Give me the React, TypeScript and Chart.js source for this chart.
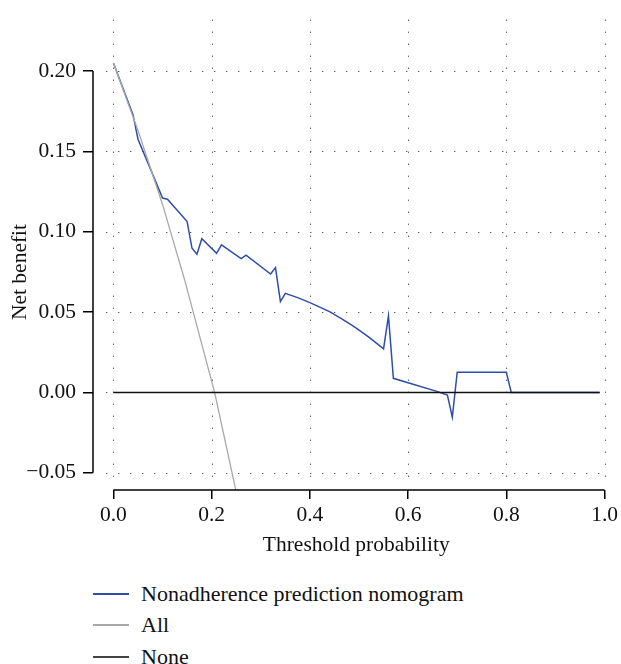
import { useEffect, useRef } from "react";
import { Chart, registerables } from "chart.js";

Chart.register(...registerables);

const FONT = "'Liberation Serif', 'Times New Roman', serif";

const xTickValues = [0, 0.2, 0.4, 0.6, 0.8, 1.0];
const yTickValues = [-0.05, 0, 0.05, 0.1, 0.15, 0.2];

// Nonadherence prediction nomogram
const nomogramX = [
  0, 0.04, 0.05, 0.07, 0.1, 0.11, 0.15, 0.16, 0.17, 0.18, 0.21, 0.22, 0.26,
  0.27, 0.32, 0.33, 0.34, 0.35, 0.375, 0.4, 0.44, 0.465, 0.49, 0.52, 0.55,
  0.56, 0.57, 0.66, 0.68, 0.69, 0.7, 0.8, 0.81, 0.99,
];
const nomogramY = [
  0.205, 0.1727, 0.1576, 0.143, 0.121, 0.1202, 0.1063, 0.0897, 0.086, 0.0957,
  0.0866, 0.0918, 0.0833, 0.0854, 0.0737, 0.0777, 0.0565, 0.0617, 0.059,
  0.0559, 0.0503, 0.0458, 0.0409, 0.0344, 0.0271, 0.0476, 0.0088, 0.0005,
  -0.0016, -0.0154, 0.0126, 0.0126, 0, 0,
];

// treat all
const allX = [0, 0.05, 0.1, 0.145, 0.206, 0.25, 0.27];
const allY = [0.205, 0.163, 0.117, 0.07, 0, -0.062, -0.089];

// treat none
const noneX = [0, 0.99];
const noneY = [0, 0];

const toPoints = (xs: number[], ys: number[]) =>
  xs.map((x, i) => ({ x, y: ys[i] }));

// dotted grid + R-style axis lines that only span the tick range
const rAxes = {
  id: "rAxes",
  beforeDatasetsDraw(chart: any) {
    const { ctx } = chart;
    const xs = chart.scales.x;
    const ys = chart.scales.y;
    ctx.save();
    ctx.strokeStyle = "#555";
    ctx.lineWidth = 1;
    ctx.setLineDash([1.3, 10.7]);
    xTickValues.forEach((v) => {
      const px = Math.round(xs.getPixelForValue(v)) + 0.5;
      ctx.beginPath();
      ctx.moveTo(px, ys.getPixelForValue(0.232));
      ctx.lineTo(px, ys.getPixelForValue(-0.053));
      ctx.stroke();
    });
    yTickValues.forEach((v) => {
      const py = Math.round(ys.getPixelForValue(v)) + 0.5;
      ctx.beginPath();
      ctx.moveTo(xs.getPixelForValue(-0.015), py);
      ctx.lineTo(xs.getPixelForValue(1.008), py);
      ctx.stroke();
    });
    ctx.restore();
  },
  afterDraw(chart: any) {
    const { ctx, chartArea } = chart;
    const xs = chart.scales.x;
    const ys = chart.scales.y;
    ctx.save();
    ctx.strokeStyle = "#000";
    ctx.lineWidth = 1.5;
    ctx.beginPath();
    ctx.moveTo(chartArea.left, ys.getPixelForValue(0.2));
    ctx.lineTo(chartArea.left, ys.getPixelForValue(-0.05));
    ctx.stroke();
    ctx.beginPath();
    ctx.moveTo(xs.getPixelForValue(0), chartArea.bottom);
    ctx.lineTo(xs.getPixelForValue(1), chartArea.bottom);
    ctx.stroke();
    ctx.restore();
  },
};

function DecisionCurve() {
  const ref = useRef<HTMLCanvasElement | null>(null);
  useEffect(() => {
    if (!ref.current) return;
    const ctx = ref.current.getContext("2d");
    if (!ctx) return;

    const chart = new Chart(ctx, {
      type: "line",
      data: {
        datasets: [
          {
            label: "None",
            data: toPoints(noneX, noneY),
            borderColor: "#111",
            borderWidth: 1.5,
            pointRadius: 0,
          },
          {
            label: "All",
            data: toPoints(allX, allY),
            borderColor: "#a8a8a8",
            borderWidth: 1.3,
            pointRadius: 0,
          },
          {
            label: "Nonadherence prediction nomogram",
            data: toPoints(nomogramX, nomogramY),
            borderColor: "#2f4dab",
            borderWidth: 1.5,
            pointRadius: 0,
          },
        ],
      },
      options: {
        animation: false,
        responsive: true,
        maintainAspectRatio: false,
        layout: { padding: { top: 54, left: 0, right: 0, bottom: 0 } },
        plugins: { legend: { display: false }, tooltip: { enabled: false } },
        scales: {
          x: {
            type: "linear",
            min: -0.0416,
            max: 1.0305,
            afterBuildTicks: (scale: any) => {
              scale.ticks = xTickValues.map((value) => ({ value }));
            },
            afterFit: (scale: any) => {
              scale.height = 70;
            },
            border: { display: false },
            grid: {
              drawOnChartArea: false,
              drawTicks: true,
              tickLength: 9,
              color: "#000",
              lineWidth: 1.5,
            },
            ticks: {
              autoSkip: false,
              maxRotation: 0,
              padding: 3,
              color: "#111",
              font: { family: FONT, size: 21.5 },
              callback: (v: any) => Number(v).toFixed(1),
            },
            title: {
              display: true,
              text: "Threshold probability",
              color: "#111",
              font: { family: FONT, size: 21.5, lineHeight: 1.2 },
              padding: { top: 0, bottom: 2 },
            },
          },
          y: {
            type: "linear",
            min: -0.0607,
            max: 0.2106,
            afterBuildTicks: (scale: any) => {
              scale.ticks = yTickValues.map((value) => ({ value }));
            },
            afterFit: (scale: any) => {
              scale.width = 93;
            },
            border: { display: false },
            grid: {
              drawOnChartArea: false,
              drawTicks: true,
              tickLength: 10,
              color: "#000",
              lineWidth: 1.5,
            },
            ticks: {
              autoSkip: false,
              padding: 7,
              color: "#111",
              font: { family: FONT, size: 21.5 },
              callback: (v: any) =>
                Number(v).toFixed(2).replace("-", "\u2212"),
            },
            title: {
              display: true,
              text: "Net benefit",
              color: "#111",
              font: { family: FONT, size: 21.5, lineHeight: 1.2 },
              padding: { top: 7, bottom: 0 },
            },
          },
        },
      },
      plugins: [rAxes],
    });
    return () => chart.destroy();
  }, []);
  return <canvas ref={ref} />;
}

const legendItems = [
  { label: "Nonadherence prediction nomogram", color: "#2f4dab", top: 594 },
  { label: "All", color: "#a8a8a8", top: 625 },
  { label: "None", color: "#444", top: 657 },
];

export default function App() {
  useEffect(() => {
    document.body.style.margin = "0";
  }, []);
  return (
    <div
      style={{
        position: "relative",
        width: 621,
        height: 664,
        background: "#fff",
        overflow: "hidden",
      }}
    >
      <div
        style={{ position: "absolute", left: 0, top: 0, width: 621, height: 560 }}
      >
        <DecisionCurve />
      </div>
      {legendItems.map((item) => (
        <div key={item.label}>
          <div
            style={{
              position: "absolute",
              left: 93,
              top: item.top - 1,
              width: 36,
              height: 2,
              background: item.color,
            }}
          />
          <div
            style={{
              position: "absolute",
              left: 141,
              top: item.top - 14,
              height: 28,
              lineHeight: "28px",
              fontFamily: FONT,
              fontSize: 22,
              color: "#111",
              whiteSpace: "nowrap",
            }}
          >
            {item.label}
          </div>
        </div>
      ))}
    </div>
  );
}
